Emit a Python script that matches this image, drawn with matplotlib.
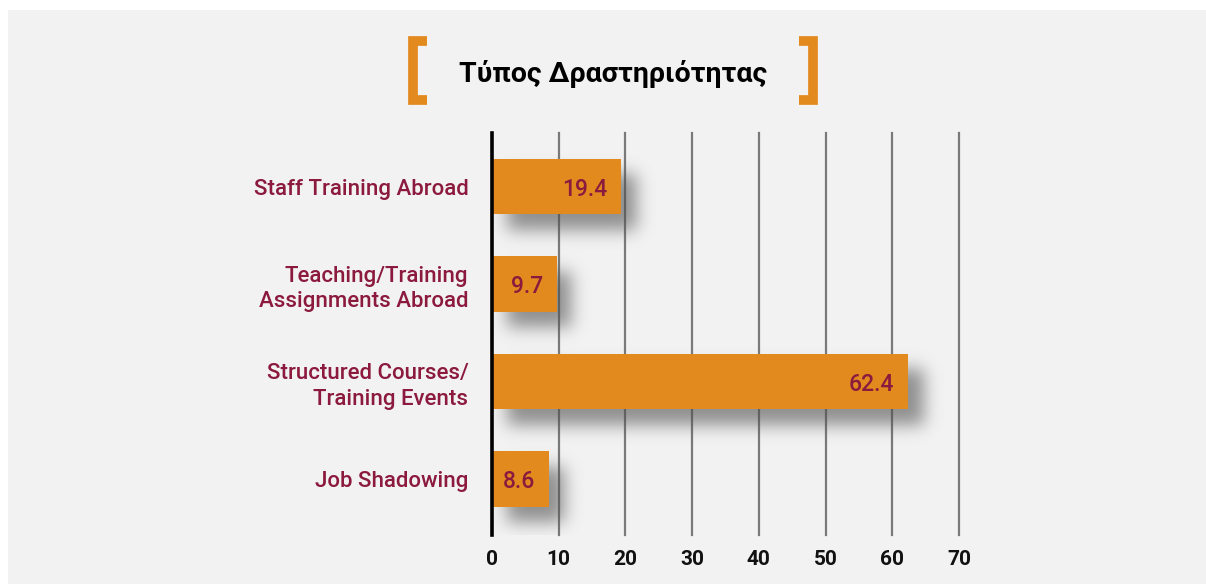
import matplotlib

matplotlib.use("Agg")
import matplotlib.pyplot as plt
import numpy as np
from matplotlib.patches import Rectangle

# data, top to bottom as shown
categories = [
    "Staff Training Abroad",
    "Teaching/Training\nAssignments Abroad",
    "Structured Courses/\nTraining Events",
    "Job Shadowing",
]
values = [19.4, 9.7, 62.4, 8.6]
x_ticks = [0, 10, 20, 30, 40, 50, 60, 70]
title = "Τύπος Δραστηριότητας"

BAR = "#e38a1e"
LABEL = "#8c1a3e"
BG = "#f2f2f2"

plt.rcParams["font.family"] = ["Roboto", "DejaVu Sans"]

W_PX, H_PX = 1206, 584
fig = plt.figure(figsize=(W_PX / 100, H_PX / 100), dpi=100)
fig.patch.set_facecolor("white")
fig.add_artist(Rectangle((8 / W_PX, 0), 1, 1 - 10 / H_PX, transform=fig.transFigure,
                         facecolor=BG, edgecolor="none", zorder=0))

ax = fig.add_axes([492 / W_PX, 1 - 535 / H_PX, 467 / W_PX, 402 / H_PX])
ax.set_facecolor("none")

n = len(categories)
ypos = np.arange(n)[::-1]
height = 0.57
ymin, ymax = -0.575, n - 1 + 0.55
ax.set_xlim(0, 70)
ax.set_ylim(ymin, ymax)

# soft drop shadow behind the bars (built in pixel space, then blurred)
aw, ah = 467, 402
pad = 40
mask = np.zeros((ah + 2 * pad, aw + 2 * pad))
off = 15
for y, v in zip(ypos, values):
    r0 = int((y - height / 2 - ymin) / (ymax - ymin) * ah) - off + pad
    r1 = int((y + height / 2 - ymin) / (ymax - ymin) * ah) - off + pad
    c1 = int(v / 70 * aw) + off + pad
    mask[r0:r1, off + pad:c1] = 1.0
sigma = 8.5
k = np.arange(-30, 31)
kern = np.exp(-k**2 / (2 * sigma**2))
kern /= kern.sum()
blur = np.apply_along_axis(lambda r: np.convolve(r, kern, mode="same"), 1, mask)
blur = np.apply_along_axis(lambda c: np.convolve(c, kern, mode="same"), 0, blur)
blur = blur[pad:-pad, pad:-pad]
shadow = np.zeros((ah, aw, 4))
shadow[..., :3] = 0.3
shadow[..., 3] = np.clip(blur * 0.6, 0, 1)
ax.imshow(shadow, origin="lower", extent=(0, 70, ymin, ymax), aspect="auto",
          interpolation="bilinear", zorder=2)

for xt in x_ticks[1:]:
    ax.axvline(xt, color="#7a7a7a", lw=1.6, zorder=1, clip_on=False)
ax.axvline(0, color="black", lw=2.6, zorder=4, clip_on=False)

ax.barh(ypos, values, height=height, color=BAR, zorder=3)
for y, v in zip(ypos, values):
    ax.annotate(f"{v:.1f}", (v, y), xytext=(-10, -2), textcoords="offset points",
                ha="right", va="center", fontsize=16.5, fontweight="medium", color=LABEL, zorder=5)

for s in ax.spines.values():
    s.set_visible(False)
ax.set_xticks(x_ticks)
ax.set_xticklabels([str(t) for t in x_ticks], fontsize=15, fontweight="bold", color="#111111")
ax.set_yticks(ypos)
ax.set_yticklabels(categories, fontsize=16, fontweight="medium", color=LABEL, linespacing=1.3)
ax.tick_params(axis="x", length=0, pad=11)
ax.tick_params(axis="y", length=0, pad=17)

# title with orange brackets
fig.text(613 / W_PX, 1 - 74 / H_PX, title, ha="center", va="center",
         fontsize=20.5, fontweight="bold", color="black")
for x_in, x_out in [(413, 427), (813, 799)]:
    xs = [x_out / W_PX, x_in / W_PX, x_in / W_PX, x_out / W_PX]
    ys = [1 - 40.5 / H_PX, 1 - 40.5 / H_PX, 1 - 99.5 / H_PX, 1 - 99.5 / H_PX]
    fig.add_artist(plt.Line2D(xs, ys, transform=fig.transFigure, color=BAR,
                              lw=7, solid_joinstyle="miter", solid_capstyle="butt"))

fig.savefig("out.png", dpi=100)
